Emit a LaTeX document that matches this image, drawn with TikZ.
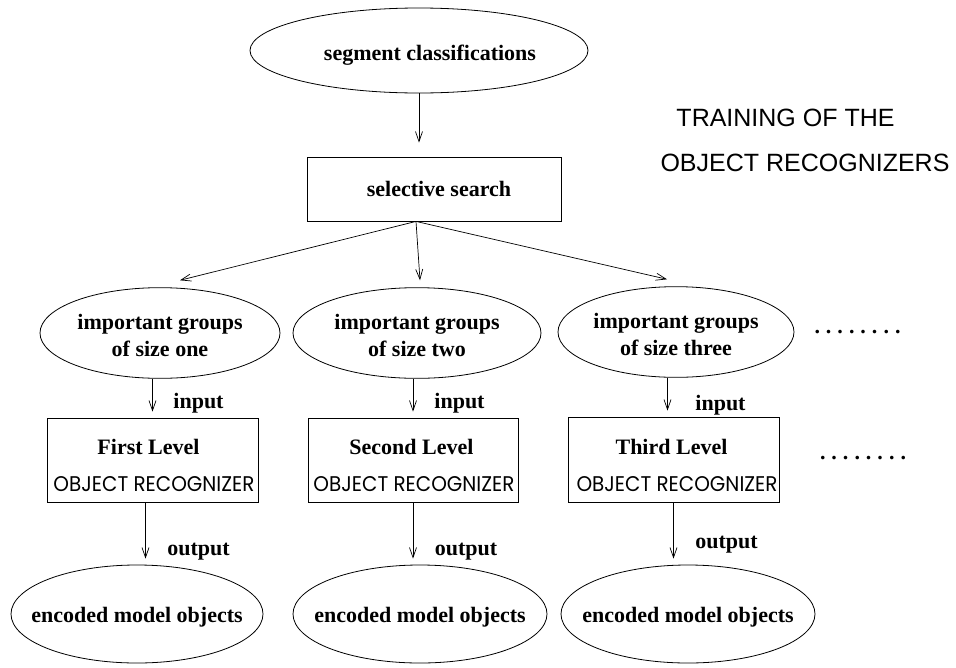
\documentclass[tikz,border=0pt]{standalone}
\usepackage{fontspec}
\usepackage{graphicx}
\setmainfont{Liberation Serif}
\newfontfamily\titlefont{Liberation Sans}
\newfontfamily\agfont{Poppins}
\usetikzlibrary{shapes.geometric,arrows.meta}
\newcommand\zw[1]{\makebox[0pt]{#1}}
\newcommand\objrec{\resizebox{201pt}{15pt}{\mdseries\agfont OBJECT RECOGNIZER}}
\newcommand\dotrow{.\kern6pt.\kern6pt.\kern6pt.\kern6pt.\kern6pt.\kern6pt.\kern6pt.}
\begin{document}
\begin{tikzpicture}[x=1pt,y=-1pt,
  every node/.style={font=\fontsize{22}{27}\selectfont\bfseries},
  ell/.style={draw,ellipse,inner sep=0pt,line width=0.8pt},
  recbox/.style={draw,rectangle,inner sep=0pt,line width=0.8pt},
  lbl/.style={inner sep=0pt},
  ttl/.style={inner sep=0pt,font=\titlefont\fontsize{25}{30}\selectfont},
  arr/.style={-{Straight Barb[length=10pt,width=7pt]},line width=0.7pt},
  gap/.style={shorten >=6pt}]
\useasboundingbox (0,0) rectangle (956,667);

% top
\node[ell,minimum width=338pt,minimum height=85pt] (seg) at (419,50.5) {\zw{\rule{0pt}{25pt}\hspace*{22pt}segment classifications}};
\node[recbox,minimum width=254pt,minimum height=64pt] (sel) at (434,189) {\zw{\hspace*{10pt}selective search}};

% title
\node[ttl] (tt1) at (785.5,118) {TRAINING OF THE};
\node[ttl] (tt2) at (805,163) {OBJECT RECOGNIZERS};

% groups
\node[ell,minimum width=240pt,minimum height=84pt] (g1) at (160,333) {\zw{\begin{tabular}{@{}c@{}}\rule{0pt}{29pt}important groups\\of size one\end{tabular}}};
\node[ell,minimum width=248pt,minimum height=84pt] (g2) at (417,333) {\zw{\begin{tabular}{@{}c@{}}\rule{0pt}{29pt}important groups\\of size two\end{tabular}}};
\node[ell,minimum width=236pt,minimum height=82pt] (g3) at (676,332) {\zw{\begin{tabular}{@{}c@{}}\rule{0pt}{29pt}important groups\\of size three\end{tabular}}};

\node[lbl] (d1) at (857.5,332) {\dotrow};
\node[lbl] (d2) at (863,458) {\dotrow};

% recognizer boxes
\node[recbox,minimum width=211pt,minimum height=84pt] (b1) at (152.5,460) {};
\node[recbox,minimum width=210pt,minimum height=84pt] (b2) at (413,460) {};
\node[recbox,minimum width=211pt,minimum height=85pt] (b3) at (673.5,459.5) {};
\node[lbl] (t1) at (148.5,447) {First Level};
\node[lbl] (r1) at (154,484) {\objrec};
\node[lbl] (t2) at (411.5,447) {Second Level};
\node[lbl] (r2) at (414,484) {\objrec};
\node[lbl] (t3) at (671.5,447) {Third Level};
\node[lbl] (r3) at (677,484) {\objrec};

% outputs
\node[ell,minimum width=252pt,minimum height=98pt] (e1) at (137,614) {\zw{\rule{0pt}{21pt}encoded model objects}};
\node[ell,minimum width=254pt,minimum height=98pt] (e2) at (420,614) {\zw{\rule{0pt}{21pt}encoded model objects}};
\node[ell,minimum width=254pt,minimum height=98pt] (e3) at (688,614) {\zw{\rule{0pt}{21pt}encoded model objects}};

% labels
\node[lbl] (in1) at (198.5,403) {input};
\node[lbl] (in2) at (459.5,403) {input};
\node[lbl] (in3) at (720.5,405) {input};
\node[lbl] (out1) at (198.5,552) {output};
\node[lbl] (out2) at (466,552) {output};
\node[lbl] (out3) at (726.5,545) {output};

% connectors
\draw[arr,shorten >=14pt] (seg) -- (seg |- sel.north);
\coordinate (fork) at ([xshift=-18pt]sel.south);
\draw[arr] (fork) -- ([xshift=20pt,yshift=7pt]g1.north);
\draw[arr] (fork) -- ([xshift=3pt,yshift=7pt]g2.north);
\draw[arr] (fork) -- ([xshift=-9pt,yshift=7pt]g3.north);

\draw[arr,gap] (g1.south -| b1.north) -- (b1.north);
\draw[arr,gap] (g2.south -| b2.north) -- (b2.north);
\coordinate (a3) at ([xshift=-6pt]b3.north);
\draw[arr,gap] (g3.south -| a3) -- (a3);

\coordinate (o1) at ([xshift=-7pt]b1.south);
\draw[arr,gap] (o1) -- (o1 |- e1.north);
\draw[arr,gap] (b2.south) -- (b2.south |- e2.north);
\draw[arr,gap] (b3.south) -- (b3.south |- e3.north);
\end{tikzpicture}
\end{document}
